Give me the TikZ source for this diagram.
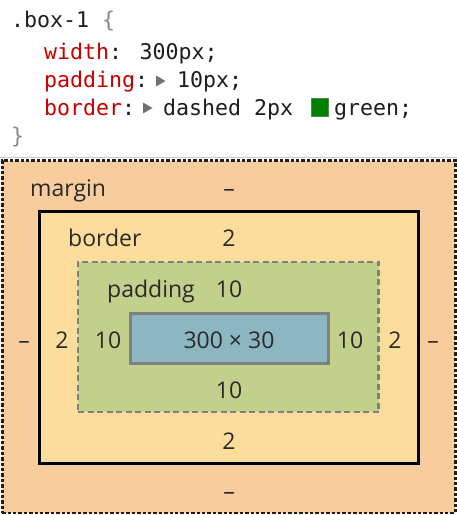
\documentclass[tikz,border=0pt]{standalone}
\usepackage{fontspec}
\setmainfont{Open Sans}
\newfontfamily\codefont{DejaVu Sans Mono}
\definecolor{marginfill}{HTML}{F9CC9D}
\definecolor{borderfill}{HTML}{FDDD9B}
\definecolor{paddingfill}{HTML}{C3D08B}
\definecolor{contentfill}{HTML}{8BB6C2}
\definecolor{labeltext}{HTML}{2A2A2A}
\definecolor{codetext}{HTML}{1E1E1E}
\definecolor{propred}{HTML}{C80000}
\definecolor{bracegrey}{HTML}{888888}
\definecolor{trigrey}{HTML}{707070}
\definecolor{dashgrey}{HTML}{808080}
\definecolor{sepgrey}{HTML}{CBCDD1}
\definecolor{swatchgreen}{HTML}{008000}
\definecolor{swatchedge}{HTML}{4F8A4F}
\tikzset{
  boxnode/.style={rectangle, inner sep=0pt, outer sep=0pt},
  lbl/.style={font=\fontsize{23}{28}\selectfont, text=labeltext, inner sep=0pt, anchor=base},
  lblw/.style={lbl, anchor=base west},
  codetxt/.style={font=\codefont\fontsize{21.6}{26}\selectfont, text=codetext, inner sep=0pt, anchor=base west},
  prop/.style={codetxt, text=propred},
  tri/.style={fill=trigrey, draw=none},
}
\begin{document}
\begin{tikzpicture}[x=1pt,y=-1pt]
\useasboundingbox (0,0) rectangle (457,515);
\fill[white] (0,0) rectangle (457,515);

% code block
\node[codetxt] (sel) at (11,27) {.box-1};
\node[codetxt, text=bracegrey] (open) at (102,27) {\{};
\node[prop] (pw) at (44,59) {width};
\node[codetxt] (vw) at (109,59) {: 300px;};
\node[prop] (pp) at (44,87) {padding};
\node[codetxt] (cp) at (135,87) {:};
\fill[tri] (156,75.5) -- (165.5,81) -- (156,86.5) -- cycle;
\node[codetxt] (vp) at (177,87) {10px;};
\node[prop] (pb) at (44,115) {border};
\node[codetxt] (cb) at (122,115) {:};
\fill[tri] (143,102.5) -- (152.5,108) -- (143,113.5) -- cycle;
\node[codetxt] (vb) at (163,115) {dashed 2px};
\node[boxnode, fill=swatchgreen, draw=swatchedge, line width=1.2pt, minimum width=17.5pt, minimum height=18pt] (sw) at (320,107.7) {};
\node[codetxt] (vg) at (334,115) {green;};
\node[codetxt, text=bracegrey] (close) at (11,143) {\}};

% separator
\draw[sepgrey, line width=1.5pt] (0,157.5) -- (457,157.5);

% boxes
\node[boxnode, fill=marginfill, draw=codetext, line width=2.8pt, dash pattern=on 3.4pt off 2pt, minimum width=453pt, minimum height=352.5pt] (marginbox) at (228.6,336.8) {};
\node[boxnode, fill=borderfill, draw=black, line width=3pt, minimum width=378.3pt, minimum height=251.3pt] (borderbox) at (228.85,337.35) {};
\node[boxnode, fill=paddingfill, draw=dashgrey, line width=2.7pt, dash pattern=on 6pt off 3.5pt, minimum width=300.7pt, minimum height=150pt] (paddingbox) at (228.35,337) {};
\node[boxnode, fill=contentfill, draw=dashgrey, line width=3pt, minimum width=197.5pt, minimum height=50pt] (contentbox) at (229.25,338) {};

% labels
\node[lblw] (lmargin) at (30,196) {margin};
\node[lbl] (mtop) at (229,196) {–};
\node[lblw] (lborder) at (68,246) {border};
\node[lbl] (btop) at (229,246) {2};
\node[lblw] (lpadding) at (107,297) {padding};
\node[lbl] (ptop) at (229,297) {10};
\node[lbl] (mleft) at (24,348) {–};
\node[lbl] (bleft) at (62,348) {2};
\node[lbl] (pleft) at (108,348) {10};
\node[lbl] (content) at (229,348) {300 × 30};
\node[lbl] (pright) at (350,348) {10};
\node[lbl] (bright) at (395,348) {2};
\node[lbl] (mright) at (433,348) {–};
\node[lbl] (pbot) at (229,398) {10};
\node[lbl] (bbot) at (229,449) {2};
\node[lbl] (mbot) at (229,499) {–};
\end{tikzpicture}
\end{document}
